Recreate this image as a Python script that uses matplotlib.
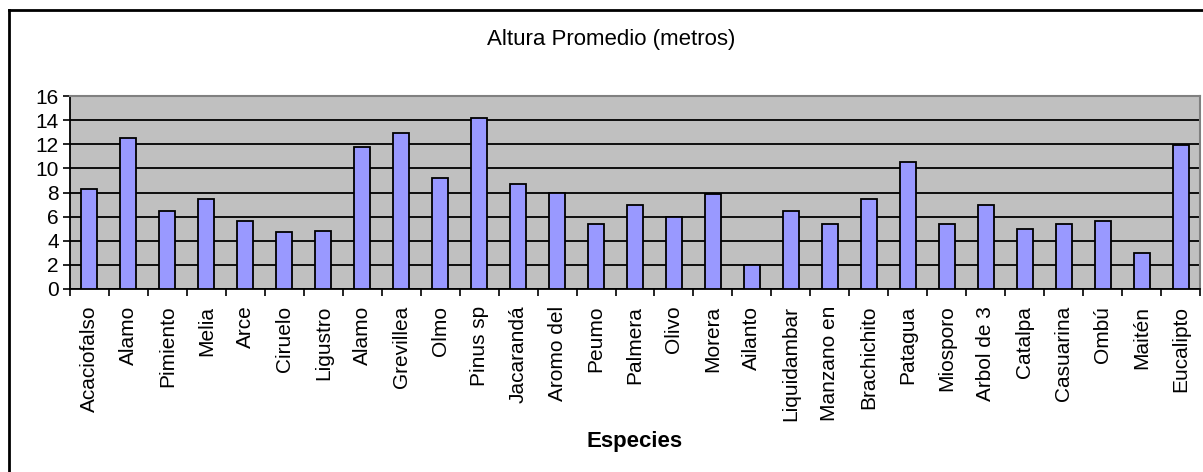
import matplotlib
matplotlib.use("Agg")
import matplotlib.pyplot as plt
from matplotlib.lines import Line2D
import numpy as np

plt.rcParams['font.family'] = ['Liberation Sans', 'DejaVu Sans']

especies = ['Acaciofalso', 'Alamo', 'Pimiento', 'Melia', 'Arce', 'Ciruelo',
            'Ligustro', 'Alamo', 'Grevillea', 'Olmo', 'Pinus sp', 'Jacarandá',
            'Aromo del', 'Peumo', 'Palmera', 'Olivo', 'Morera', 'Ailanto',
            'Liquidambar', 'Manzano en', 'Brachichito', 'Patagua', 'Miosporo',
            'Arbol de 3', 'Catalpa', 'Casuarina', 'Ombú', 'Maitén', 'Eucalipto']
altura = [8.3, 12.5, 6.5, 7.5, 5.6, 4.7, 4.8, 11.8, 12.9, 9.2, 14.2, 8.7,
          8.0, 5.4, 7.0, 6.0, 7.9, 2.0, 6.5, 5.4, 7.5, 10.5, 5.4, 7.0, 5.0,
          5.4, 5.6, 3.0, 11.9]
y_ticks = [0, 2, 4, 6, 8, 10, 12, 14, 16]

W, H = 1203, 472
fig = plt.figure(figsize=(W / 100, H / 100), dpi=100)
ax = fig.add_axes([70 / W, 1 - 289 / H, 1130 / W, 193 / H])

x = np.arange(len(especies))
ax.set_facecolor('#C0C0C0')
ax.set_axisbelow(True)
ax.yaxis.grid(True, color='black', linewidth=1.3)
ax.bar(x, altura, width=0.41, color='#9999FF', edgecolor='black', linewidth=1.3, zorder=3)

ax.set_xlim(-0.5, len(especies) - 0.5)
ax.set_ylim(0, 16)
ax.set_yticks(y_ticks)
ax.tick_params(axis='y', labelsize=15, length=5, width=1.2, direction='out', pad=3)

ax.set_xticks(x)
ax.set_xticklabels(especies, rotation=90, fontsize=15)
ax.tick_params(axis='x', which='major', length=0, pad=12)
ax.set_xticks(np.arange(-0.5, len(especies), 1.0), minor=True)
ax.tick_params(axis='x', which='minor', length=5, width=1.2, direction='out')

ax.spines['left'].set_color('black')
ax.spines['left'].set_linewidth(1.3)
ax.spines['bottom'].set_color('black')
ax.spines['bottom'].set_linewidth(1.3)
ax.spines['top'].set_color('#808080')
ax.spines['top'].set_linewidth(1.5)
ax.spines['right'].set_color('#808080')
ax.spines['right'].set_linewidth(1.5)

fig.text(611 / W, 1 - 40 / H, 'Altura Promedio (metros)', fontsize=16,
         ha='center', va='center')
fig.text(635 / W, 1 - 442 / H, 'Especies', fontsize=16, fontweight='bold',
         ha='center', va='center')

# outer chart frame (left and top edges visible)
fig.add_artist(Line2D([8.5 / W, 8.5 / W], [0, 1 - 10 / H], color='black',
                      linewidth=2, transform=fig.transFigure))
fig.add_artist(Line2D([8.5 / W, 1], [1 - 10 / H, 1 - 10 / H], color='black',
                      linewidth=2, transform=fig.transFigure))

fig.savefig('out.png', dpi=100)
